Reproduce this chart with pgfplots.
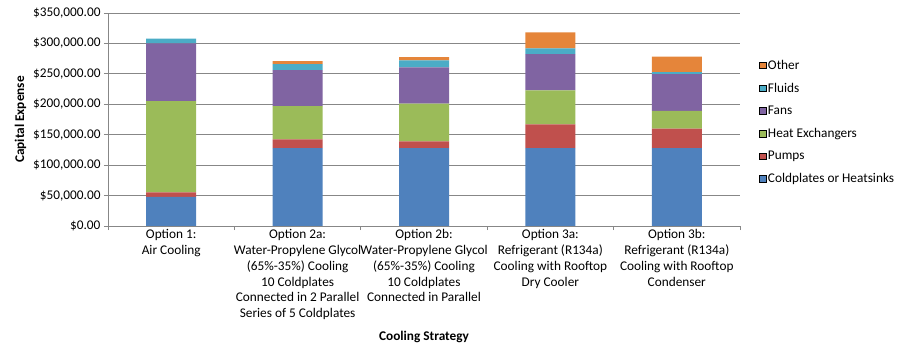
\documentclass[border=0pt]{standalone}
\usepackage{pgfplots}
\pgfplotsset{compat=1.18}
\usepackage{pgfplotstable}
\usepackage{fontspec}
\setmainfont{Carlito}
\definecolor{cBlue}{HTML}{4F81BD}
\definecolor{cRed}{HTML}{C0504D}
\definecolor{cGreen}{HTML}{9BBB59}
\definecolor{cPurple}{HTML}{8064A2}
\definecolor{cCyan}{HTML}{4BACC6}
\definecolor{cOrange}{HTML}{E5853A}
\definecolor{cGrid}{HTML}{878787}
\pgfplotstableread{
x cold pump hx fans fluids other
0 47700 7700 149600 95000 8000 0
1 128000 14500 54500 59000 10000 5000
2 128000 11000 62000 59500 11500 5500
3 128000 39000 56000 59500 9500 26000
4 128000 32000 29000 60500 3500 25500
}\data
\begin{document}
\begin{tikzpicture}
\useasboundingbox (0,0) rectangle (900bp,353bp);
\begin{axis}[
  at={(108bp,127bp)}, anchor=south west,
  scale only axis, width=632bp, height=213bp,
  ybar stacked, bar width=50bp,
  xmin=-0.5, xmax=4.5, ymin=0, ymax=350000,
  scaled y ticks=false,
  font=\fontsize{13.3bp}{15.8bp}\selectfont,
  axis x line*=bottom, axis y line*=left,
  axis line style={-, draw=cGrid, line width=0.8bp},
  xtick={-0.5,0.5,1.5,2.5,3.5,4.5}, xticklabels={},
  x tick style={draw=cGrid, line width=0.8bp},
  major tick length=4bp, tick align=outside,
  extra x ticks={0,1,2,3,4},
  extra x tick labels={
    {Option 1:\\Air Cooling},
    {Option 2a:\\Water-Propylene Glycol\\(65\%-35\%) Cooling\\10 Coldplates\\Connected in 2 Parallel\\Series of 5 Coldplates},
    {Option 2b:\\Water-Propylene Glycol\\(65\%-35\%) Cooling\\10 Coldplates\\Connected in Parallel},
    {Option 3a:\\Refrigerant (R134a)\\Cooling with Rooftop\\Dry Cooler},
    {Option 3b:\\Refrigerant (R134a)\\Cooling with Rooftop\\Condenser}},
  extra x tick style={major tick length=0pt, grid=none},
  xticklabel style={align=center, anchor=north, font=\fontsize{13.3bp}{15.8bp}\selectfont},
  ytick={0,50000,100000,150000,200000,250000,300000,350000},
  yticklabels={{\$0.00},{\$50,000.00},{\$100,000.00},{\$150,000.00},{\$200,000.00},{\$250,000.00},{\$300,000.00},{\$350,000.00}},
  y tick style={draw=cGrid, line width=0.8bp},
  ymajorgrids, grid style={draw=cGrid, line width=0.8bp},
  yticklabel style={font=\fontsize{13.3bp}{15bp}\selectfont},
  ylabel={\bfseries Capital Expense},
  xlabel={\bfseries Cooling Strategy},
  reverse legend,
  legend cell align=left,
  legend style={at={(1.025,0.80)}, anchor=north west, draw=none, fill=none,
    font=\fontsize{13.3bp}{15bp}\selectfont, row sep=8.3bp},
  legend image code/.code={\draw[#1] (0bp,-3.3bp) rectangle (6.6bp,3.3bp);},
]
\addplot[fill=cBlue, draw=none] table[x=x, y=cold] {\data};
\addlegendentry{Coldplates or Heatsinks}
\addplot[fill=cRed, draw=none] table[x=x, y=pump] {\data};
\addlegendentry{Pumps}
\addplot[fill=cGreen, draw=none] table[x=x, y=hx] {\data};
\addlegendentry{Heat Exchangers}
\addplot[fill=cPurple, draw=none] table[x=x, y=fans] {\data};
\addlegendentry{Fans}
\addplot[fill=cCyan, draw=none] table[x=x, y=fluids] {\data};
\addlegendentry{Fluids}
\addplot[fill=cOrange, draw=none] table[x=x, y=other] {\data};
\addlegendentry{Other}
\end{axis}
\end{tikzpicture}
\end{document}
